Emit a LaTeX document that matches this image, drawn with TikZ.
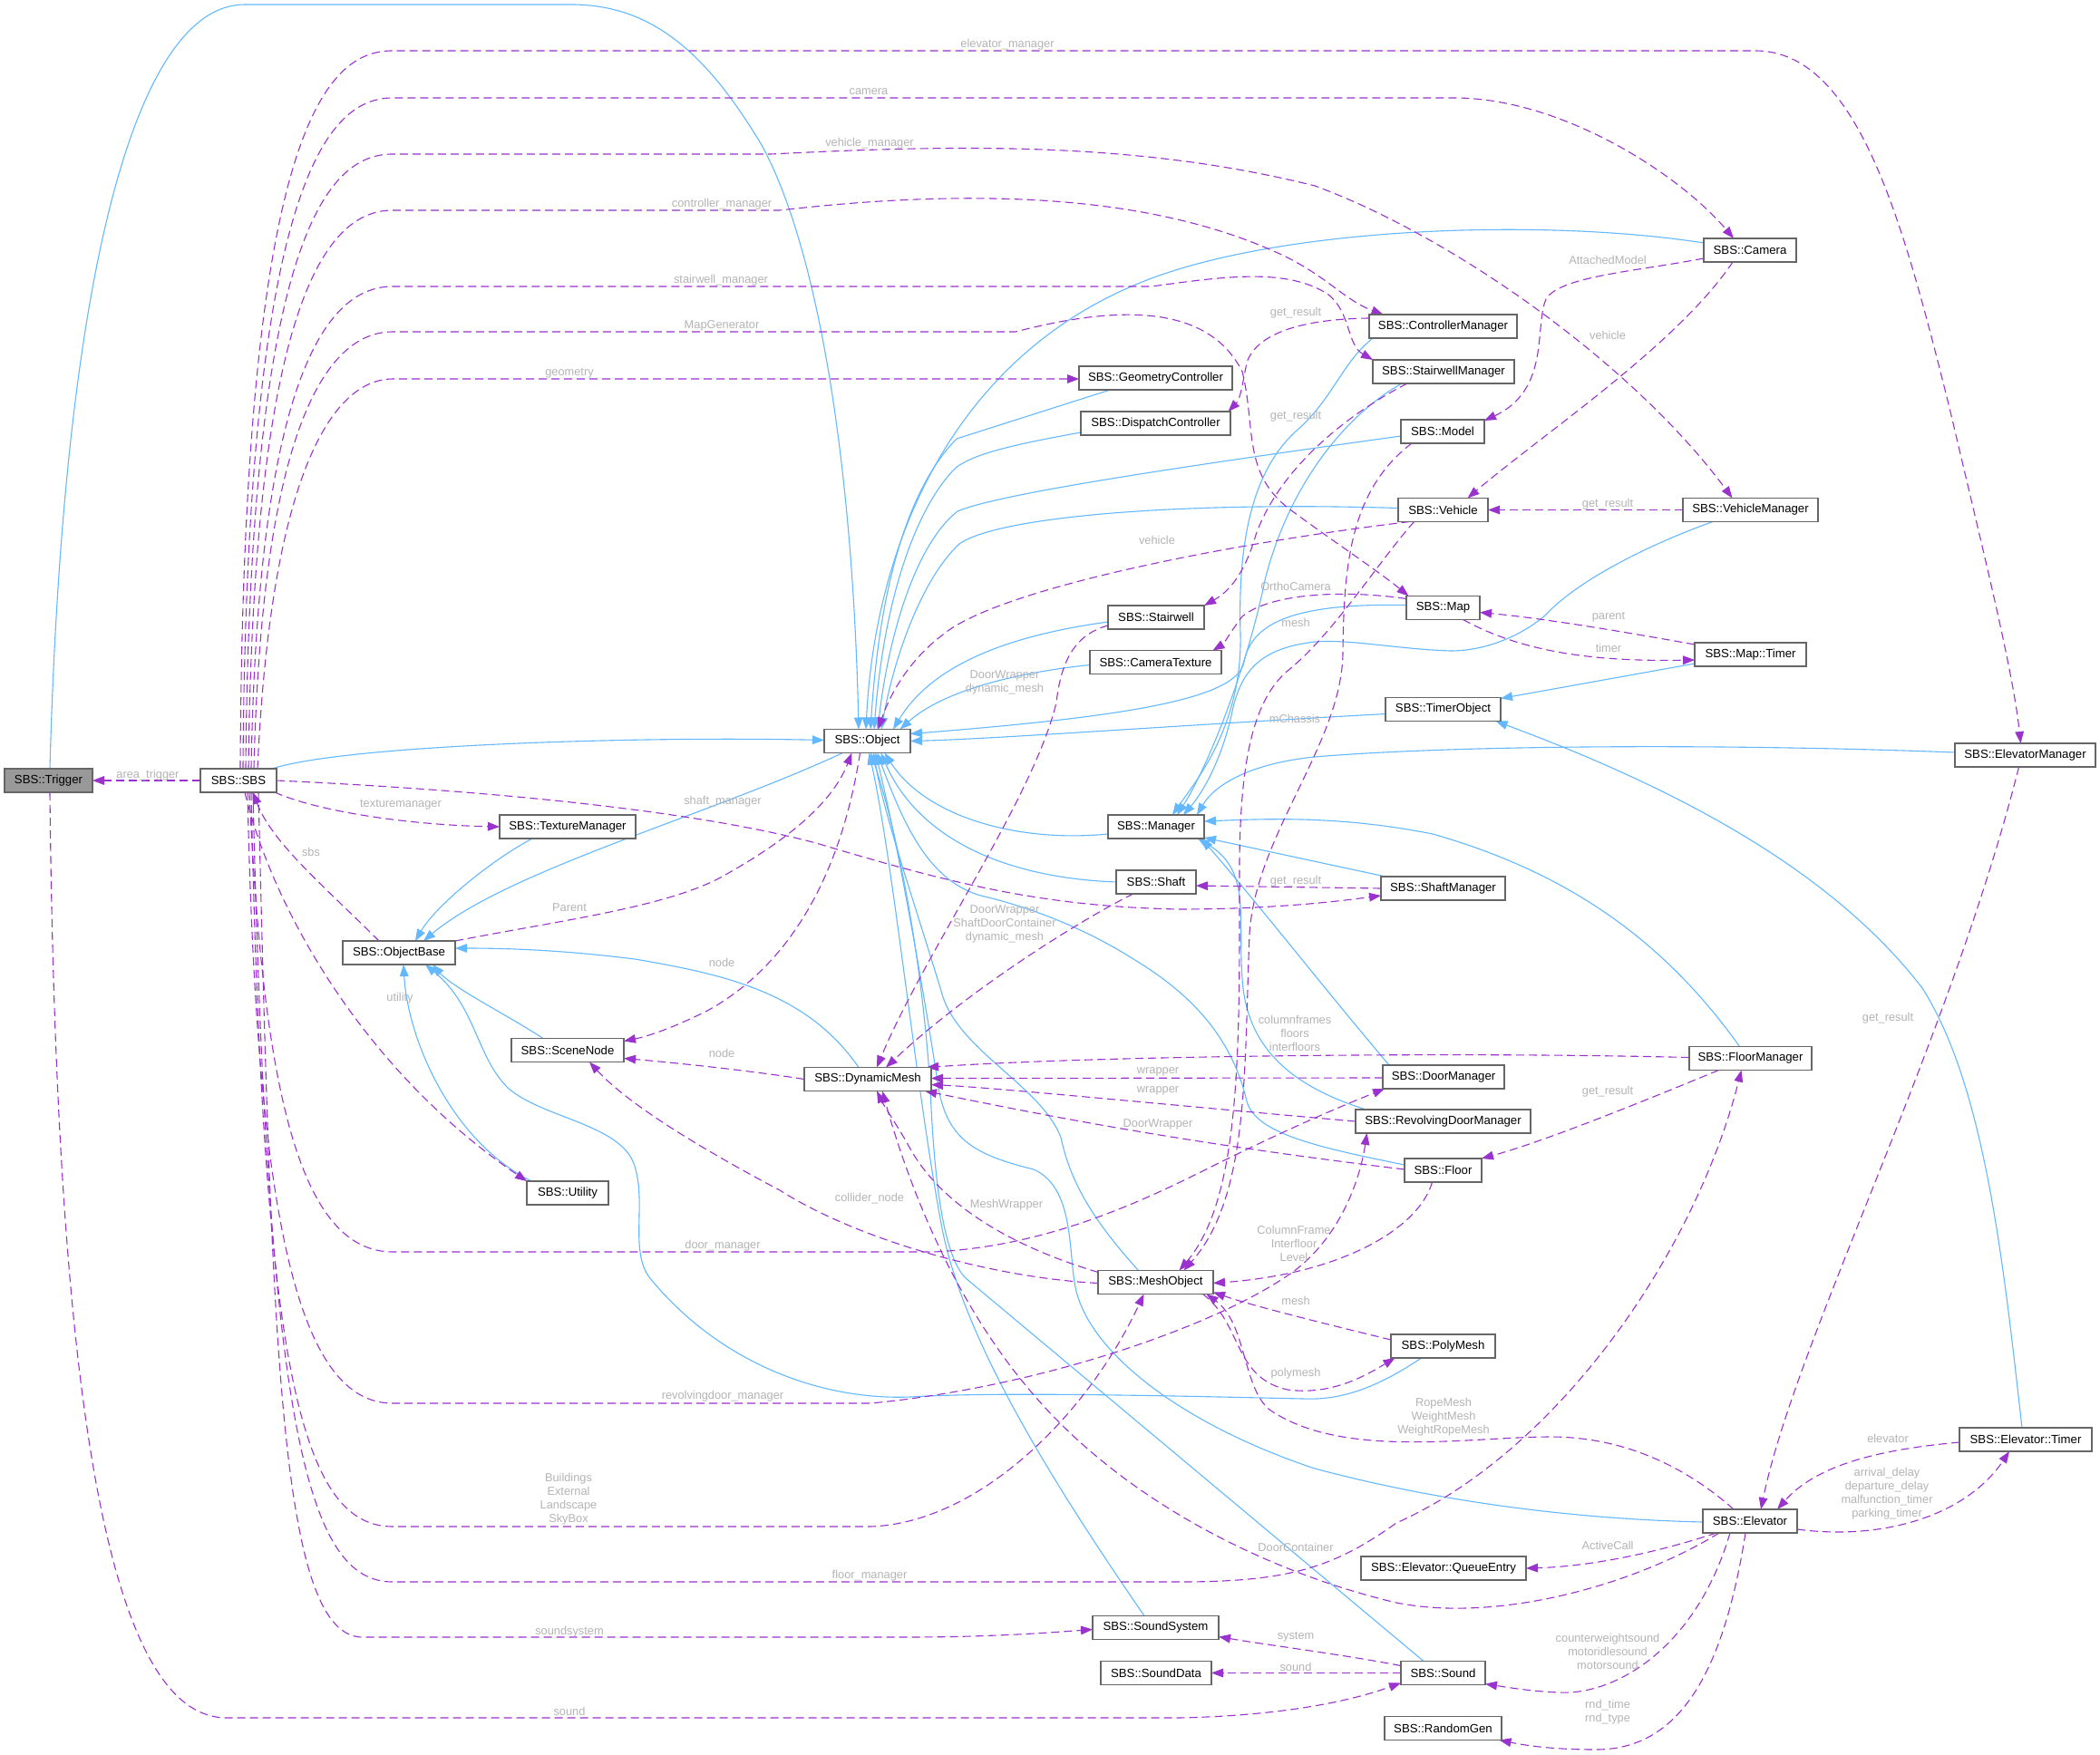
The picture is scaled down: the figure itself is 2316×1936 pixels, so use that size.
\documentclass[tikz,border=0pt]{standalone}
\usepackage{fontspec}
\setmainfont{Liberation Sans}
\usetikzlibrary{arrows.meta,calc}
\definecolor{inhblue}{HTML}{63B8FF}
\definecolor{usepurple}{HTML}{9A32CD}
\definecolor{nodeborder}{HTML}{666666}
\definecolor{lblgray}{HTML}{B4B4B4}
\definecolor{trigfill}{HTML}{999999}
\pgfdeclarelayer{bglayer}
\pgfdeclarelayer{edges}
\pgfsetlayers{bglayer,edges,main}
\tikzset{
 cls/.style={draw=nodeborder, fill=white, line width=0.6pt, minimum height=13pt, inner sep=0pt, font=\fontsize{6.6}{8}\selectfont},
 inhedge/.style={draw=inhblue, line width=0.55pt, -{Triangle[length=6.5pt,width=4.8pt]}},
 useedge/.style={draw=usepurple, line width=0.55pt, dash pattern=on 4.5pt off 2.5pt, -{Triangle[length=6.5pt,width=4.8pt]}},
 lbl/.style={text=lblgray, font=\fontsize{6.4}{7.5}\selectfont, align=center, inner sep=0pt},
}
\begin{document}
\begin{tikzpicture}[x=0.5pt,y=-0.5pt]
\begin{pgfonlayer}{bglayer}
\fill[white] (0,0) rectangle (2316,1936);
\end{pgfonlayer}
\useasboundingbox (0,0) rectangle (2316,1936);
% nodes
\node[cls, fill=trigfill, minimum width=48.5pt] (T) at (53.5,861) {SBS::Trigger};
\node[cls, minimum width=42pt] (S) at (263,861) {SBS::SBS};
\node[cls, minimum width=47.5pt] (O) at (956.5,817.5) {SBS::Object};
\node[cls, minimum width=75pt] (TM) at (626,912) {SBS::TextureManager};
\node[cls, minimum width=62pt] (OB) at (440,1051) {SBS::ObjectBase};
\node[cls, minimum width=62pt] (SN) at (626,1158.5) {SBS::SceneNode};
\node[cls, minimum width=45pt] (U) at (626,1316) {SBS::Utility};
\node[cls, minimum width=70pt] (DM) at (957,1190.5) {SBS::DynamicMesh};
\node[cls, minimum width=84.5pt] (GC) at (1274.5,417) {SBS::GeometryController};
\node[cls, minimum width=82.5pt] (DC) at (1274.5,467) {SBS::DispatchController};
\node[cls, minimum width=81.5pt] (CM) at (1591.5,360) {SBS::ControllerManager};
\node[cls, minimum width=78pt] (StM) at (1592,410) {SBS::StairwellManager};
\node[cls, minimum width=46pt] (Mo) at (1591,476) {SBS::Model};
\node[cls, minimum width=49.5pt] (V) at (1591.5,562.5) {SBS::Vehicle};
\node[cls, minimum width=51pt] (C) at (1930,276) {SBS::Camera};
\node[cls, minimum width=74.5pt] (VM) at (1930.5,562.5) {SBS::VehicleManager};
\node[cls, minimum width=53pt] (St) at (1275,681) {SBS::Stairwell};
\node[cls, minimum width=72.5pt] (CT) at (1274.5,730.5) {SBS::CameraTexture};
\node[cls, minimum width=40.5pt] (Ma) at (1591.5,670.5) {SBS::Map};
\node[cls, minimum width=61.5pt] (MT) at (1930.5,722) {SBS::Map::Timer};
\node[cls, minimum width=63.5pt] (TO) at (1591.5,782.5) {SBS::TimerObject};
\node[cls, minimum width=77.5pt] (EM) at (2233.5,833) {SBS::ElevatorManager};
\node[cls, minimum width=53pt] (Mg) at (1275,912) {SBS::Manager};
\node[cls, minimum width=44pt] (Sh) at (1275,973) {SBS::Shaft};
\node[cls, minimum width=68.5pt] (ShM) at (1591.5,980) {SBS::ShaftManager};
\node[cls, minimum width=67.5pt] (FM) at (1930.5,1167.5) {SBS::FloorManager};
\node[cls, minimum width=67pt] (DoM) at (1592,1188) {SBS::DoorManager};
\node[cls, minimum width=96.5pt] (RDM) at (1591.5,1237) {SBS::RevolvingDoorManager};
\node[cls, minimum width=42.5pt] (F) at (1591.5,1291) {SBS::Floor};
\node[cls, minimum width=63.5pt] (MO) at (1274.5,1414.5) {SBS::MeshObject};
\node[cls, minimum width=57.5pt] (PM) at (1591.5,1485) {SBS::PolyMesh};
\node[cls, minimum width=73pt] (ET) at (2234,1588) {SBS::Elevator::Timer};
\node[cls, minimum width=52pt] (E) at (1930,1678) {SBS::Elevator};
\node[cls, minimum width=91pt] (Q) at (1592,1730) {SBS::Elevator::QueueEntry};
\node[cls, minimum width=69.5pt] (SS) at (1274.5,1795.5) {SBS::SoundSystem};
\node[cls, minimum width=61pt] (SD) at (1275,1845.5) {SBS::SoundData};
\node[cls, minimum width=46.5pt] (So) at (1591.5,1845.5) {SBS::Sound};
\node[cls, minimum width=64.5pt] (RG) at (1591.5,1906.5) {SBS::RandomGen};

\begin{pgfonlayer}{edges}
% ---------- inheritance ----------
\draw[inhedge] ($(T)+(1.5,-13)$) .. controls (70,300) and (150,5) .. (270,5) -- (630,5) .. controls (720,5) and (780,60) .. (840,160) .. controls (900,270) and (940,500) .. ($(O)+(-9.5,-13)$);
\draw[inhedge] ($(S)+(37,-13)$) .. controls (380,822) and (700,812) .. ($(O)+(-47.5,-1)$);
\draw[inhedge] ($(TM)+(-39,13)$) .. controls (540,950) and (480,1000) .. ($(OB)+(18,-13)$);
\draw[inhedge] ($(O)+(-27,13)$) .. controls (780,900) and (560,960) .. ($(OB)+(27,-13)$);
\draw[inhedge] ($(SN)+(-27,-13)$) .. controls (560,1120) and (500,1090) .. ($(OB)+(37,13)$);
\draw[inhedge] ($(U)+(-40,-13)$) .. controls (500,1260) and (450,1150) .. ($(OB)+(5,13)$);
\draw[inhedge] ($(DM)+(-10,-13)$) .. controls (890,1095) and (800,1075) .. (700,1058) .. controls (620,1048) and (560,1046) .. ($(OB)+(62,-5)$);
\draw[inhedge] ($(PM)+(-24,13)$) .. controls (1520,1530) and (1480,1545) .. (1437,1543) .. controls (1300,1540) and (1100,1535) .. (1004,1541) .. controls (900,1545) and (790,1500) .. (716,1409) .. controls (695,1380) and (712,1330) .. (701,1290) .. controls (690,1240) and (600,1235) .. (560,1200) .. controls (525,1165) and (525,1110) .. ($(OB)+(29,13)$);
\draw[inhedge] ($(C)+(-51,-8)$) .. controls (1700,240) and (1400,250) .. (1250,315) .. controls (1050,400) and (965,600) .. ($(O)+(-1.5,-13)$);
\draw[inhedge] ($(GC)+(-50,13)$) -- (1055,484) .. controls (1000,540) and (970,650) .. ($(O)+(3.5,-13)$);
\draw[inhedge] ($(DC)+(-82.5,10)$) .. controls (1120,490) and (1075,500) .. (1054,516) .. controls (1010,560) and (975,660) .. ($(O)+(7.5,-13)$);
\draw[inhedge] ($(Mo)+(-46,5)$) .. controls (1300,515) and (1100,545) .. (1056,564) .. controls (1010,600) and (980,700) .. ($(O)+(11.5,-13)$);
\draw[inhedge] ($(V)+(-49.5,-2)$) .. controls (1300,553) and (1100,570) .. (1058,600) .. controls (1015,640) and (985,730) .. ($(O)+(15.5,-13)$);
\draw[inhedge] ($(St)+(-53,5)$) .. controls (1120,700) and (1030,730) .. ($(O)+(28.5,-13)$);
\draw[inhedge] ($(CT)+(-72.5,3)$) .. controls (1120,742) and (1040,762) .. ($(O)+(36,-13)$);
\draw[inhedge] ($(Ma)+(-40.5,-3)$) .. controls (1420,665) and (1380,690) .. (1372,730) .. controls (1365,770) and (1250,790) .. ($(O)+(47.5,-8)$);
\draw[inhedge] ($(TO)+(-63.5,5)$) .. controls (1300,800) and (1100,815) .. ($(O)+(47.5,0)$);
\draw[inhedge] ($(Mg)+(-53,8)$) .. controls (1120,930) and (1020,900) .. ($(O)+(19,13)$);
\draw[inhedge] ($(Sh)+(-44,0)$) .. controls (1100,968) and (1010,920) .. ($(O)+(15,13)$);
\draw[inhedge] ($(F)+(-42.5,-6)$) .. controls (1450,1265) and (1385,1250) .. (1375,1215) .. controls (1360,1150) and (1320,1100) .. (1250,1058) .. controls (1190,1020) and (1130,1000) .. (1090,990) .. controls (1030,978) and (1000,920) .. ($(O)+(11,13)$);
\draw[inhedge] ($(MO)+(-19,-13)$) .. controls (1200,1340) and (1180,1300) .. (1170,1255) .. controls (1150,1200) and (1060,1160) .. (1040,1100) .. controls (1010,1000) and (975,900) .. ($(O)+(7,13)$);
\draw[inhedge] ($(E)+(-52,1)$) .. controls (1750,1676) and (1600,1660) .. (1450,1620) .. controls (1300,1570) and (1200,1490) .. (1186,1420) .. controls (1178,1380) and (1185,1310) .. (1140,1290) .. controls (1080,1275) and (1045,1260) .. (1035,1200) .. controls (1020,1100) and (990,930) .. ($(O)+(9,13)$);
\draw[inhedge] ($(SS)+(-12.5,-13)$) .. controls (1150,1620) and (1060,1470) .. (1038,1350) .. controls (1010,1200) and (985,950) .. ($(O)+(2,13)$);
\draw[inhedge] ($(So)+(-21.5,-13)$) -- (1065,1410) .. controls (1040,1385) and (1030,1300) .. (1026,1200) .. controls (1016,1050) and (990,920) .. ($(O)+(4,13)$);
\draw[inhedge] ($(CM)+(-77.5,13)$) .. controls (1480,400) and (1470,440) .. (1430,475) .. controls (1380,520) and (1365,600) .. (1368,700) .. controls (1370,800) and (1320,860) .. ($(Mg)+(18,-13)$);
\draw[inhedge] ($(StM)+(-46,13)$) .. controls (1480,460) and (1420,540) .. (1395,640) .. controls (1375,740) and (1330,850) .. ($(Mg)+(23,-13)$);
\draw[inhedge] ($(VM)+(-41.5,13)$) .. controls (1820,600) and (1740,640) .. (1705,678) .. controls (1680,700) and (1640,718) .. (1600,718) .. controls (1540,716) and (1490,705) .. (1450,708) .. controls (1390,715) and (1370,740) .. (1360,780) .. controls (1350,830) and (1330,870) .. ($(Mg)+(30,-13)$);
\draw[inhedge] ($(EM)+(-77.5,-3)$) .. controls (1900,820) and (1600,822) .. (1450,835) .. controls (1380,842) and (1340,865) .. ($(Mg)+(45,-13)$);
\draw[inhedge] ($(FM)+(-12,-13)$) .. controls (1830,1030) and (1720,960) .. (1580,920) .. controls (1480,900) and (1400,903) .. ($(Mg)+(53,-6)$);
\draw[inhedge] ($(ShM)+(-63.5,-13)$) -- ($(Mg)+(53,12)$);
\draw[inhedge] ($(DoM)+(-60,-13)$) .. controls (1460,1090) and (1390,1000) .. ($(Mg)+(50,13)$);
\draw[inhedge] ($(RDM)+(-85,-13)$) .. controls (1430,1200) and (1375,1160) .. (1370,1080) .. controls (1365,1010) and (1380,960) .. ($(Mg)+(46,13)$);
\draw[inhedge] ($(MT)+(-61.5,10)$) -- ($(TO)+(63.5,-12)$);
\draw[inhedge] ($(ET)+(-4,-13)$) .. controls (2210,1400) and (2190,1200) .. (2120,1090) .. controls (2020,960) and (1850,870) .. ($(TO)+(58,13)$);
% ---------- usage ----------
\draw[useedge] ($(S)+(2,-13)$) .. controls (268,140) and (360,56) .. (433,56) -- (1936,56) .. controls (2050,56) and (2100,250) .. (2150,450) .. controls (2190,620) and (2220,740) .. ($(EM)+(-5,-13)$);
\draw[useedge] ($(S)+(5,-13)$) .. controls (272,190) and (365,108) .. (433,108) -- (1604,108) .. controls (1720,108) and (1850,190) .. ($(C)+(-18,-13)$);
\draw[useedge] ($(S)+(8,-13)$) .. controls (276,250) and (365,170) .. (433,170) -- (850,170) .. controls (1050,160) and (1250,155) .. (1450,205) .. controls (1600,260) and (1800,400) .. ($(VM)+(-20,-13)$);
\draw[useedge] ($(S)+(11,-13)$) .. controls (280,310) and (368,232) .. (433,232) -- (860,232) .. controls (1050,210) and (1250,210) .. (1400,275) .. controls (1460,300) and (1480,330) .. ($(CM)+(-66,-13)$);
\draw[useedge] ($(S)+(14,-13)$) .. controls (285,390) and (370,316) .. (433,316) -- (1270,316) .. controls (1350,305) and (1420,295) .. (1465,325) .. controls (1490,345) and (1485,380) .. ($(StM)+(-78,-13)$);
\draw[useedge] ($(S)+(17,-13)$) .. controls (290,440) and (372,366) .. (433,366) -- (1120,366) .. controls (1220,340) and (1330,330) .. (1370,410) .. controls (1385,470) and (1370,520) .. (1420,560) .. controls (1460,590) and (1520,630) .. ($(Ma)+(-38,-13)$);
\draw[useedge] ($(S)+(21,-13)$) .. controls (300,500) and (375,418) .. (433,418) -- ($(GC)+(-84.5,1)$);
\draw[useedge] ($(S)+(40,13)$) .. controls (350,895) and (450,910) .. ($(TM)+(-75,0)$);
\draw[useedge] ($(S)+(-42,0)$) -- ($(T)+(48.5,0)$);
\draw[useedge] ($(S)+(42,0)$) .. controls (500,870) and (750,890) .. (900,930) .. controls (1050,975) and (1150,1000) .. (1300,1003) .. controls (1400,1003) and (1470,995) .. ($(ShM)+(-68.5,8)$);
\draw[useedge] ($(S)+(7,13)$) .. controls (300,1000) and (400,1180) .. ($(U)+(-45,-13)$);
\draw[useedge] ($(OB)+(-22,-13)$) .. controls (360,980) and (300,930) .. ($(S)+(16,13)$);
\draw[useedge] ($(S)+(12,13)$) .. controls (290,1200) and (330,1381) .. (433,1381) -- (1030,1381) .. controls (1150,1375) and (1250,1330) .. (1330,1290) .. controls (1420,1245) and (1480,1220) .. ($(DoM)+(-65,13)$);
\draw[useedge] ($(S)+(10,13)$) .. controls (283,1350) and (330,1548) .. (433,1548) -- (960,1548) .. controls (1150,1530) and (1350,1460) .. (1430,1400) .. controls (1480,1360) and (1500,1300) .. ($(RDM)+(-84,13)$);
\draw[useedge] ($(S)+(14,13)$) .. controls (290,1500) and (330,1684) .. (433,1684) -- (960,1684) .. controls (1080,1680) and (1200,1560) .. ($(MO)+(-13,13)$);
\draw[useedge] ($(S)+(16,13)$) .. controls (295,1580) and (340,1745) .. (433,1745) -- (1300,1745) .. controls (1420,1745) and (1470,1730) .. (1540,1680) .. controls (1720,1600) and (1870,1380) .. ($(FM)+(-10,13)$);
\draw[useedge] ($(S)+(22,13)$) .. controls (300,1500) and (310,1806) .. (400,1806) -- (1000,1806) .. controls (1100,1806) and (1170,1800) .. ($(SS)+(-69.5,2)$);
\draw[useedge] ($(T)+(1.5,13)$) .. controls (62,1550) and (120,1895) .. (250,1895) -- (1300,1895) .. controls (1400,1893) and (1480,1880) .. ($(So)+(-46.5,11)$);
\draw[useedge] ($(OB)+(62,-13)$) .. controls (620,1015) and (740,1000) .. (800,965) .. controls (880,920) and (920,880) .. ($(O)+(-17,13)$);
\draw[useedge] ($(O)+(-8,13)$) .. controls (930,950) and (880,1060) .. (780,1115) .. controls (750,1130) and (720,1142) .. ($(SN)+(62,-10)$);
\draw[useedge] ($(DM)+(-70,0)$) .. controls (820,1180) and (740,1172) .. ($(SN)+(62,9)$);
\draw[useedge] ($(MO)+(-63.5,1)$) .. controls (1100,1410) and (950,1370) .. (860,1313) .. controls (760,1260) and (690,1215) .. ($(SN)+(24,13)$);
\draw[useedge] ($(MO)+(-63.5,-11)$) .. controls (1100,1370) and (1030,1320) .. (1000,1260) .. controls (985,1235) and (975,1220) .. ($(DM)+(10,13)$);
\draw[useedge] ($(E)+(-34,13)$) .. controls (1800,1750) and (1650,1790) .. (1540,1768) .. controls (1400,1735) and (1250,1660) .. (1150,1550) .. controls (1050,1440) and (1000,1300) .. ($(DM)+(16,13)$);
\draw[useedge] ($(E)+(-18,-13)$) .. controls (1850,1610) and (1780,1585) .. (1710,1585) .. controls (1620,1585) and (1480,1610) .. (1400,1555) .. controls (1370,1530) and (1375,1460) .. ($(MO)+(56,13)$);
\draw[useedge] ($(PM)+(-57.5,-7)$) .. controls (1460,1460) and (1380,1440) .. ($(MO)+(63.5,11)$);
\draw[useedge] ($(MO)+(52,13)$) .. controls (1370,1460) and (1360,1520) .. (1420,1533) .. controls (1470,1540) and (1510,1515) .. ($(PM)+(-53,13)$);
\draw[useedge] ($(F)+(-12,13)$) .. controls (1565,1355) and (1480,1405) .. ($(MO)+(63.5,1)$);
\draw[useedge] ($(E)+(-37,13)$) .. controls (1820,1715) and (1750,1728) .. ($(Q)+(91,0)$);
\draw[useedge] ($(E)+(-22,13)$) .. controls (1870,1820) and (1780,1870) .. (1720,1867) .. controls (1690,1866) and (1660,1861) .. ($(So)+(46.5,12)$);
\draw[useedge] ($(E)+(-5,13)$) .. controls (1900,1850) and (1850,1930) .. (1760,1930) .. controls (1710,1930) and (1680,1925) .. ($(RG)+(62,13)$);
\draw[useedge] ($(ET)+(-73,3)$) .. controls (2060,1600) and (2000,1620) .. ($(E)+(30,-13)$);
\draw[useedge] ($(E)+(52,9)$) .. controls (2080,1700) and (2170,1670) .. ($(ET)+(-18,13)$);
\draw[useedge] ($(EM)+(-7,13)$) .. controls (2150,1150) and (1980,1480) .. ($(E)+(12,-13)$);
\draw[useedge] ($(FM)+(-35,13)$) .. controls (1800,1220) and (1700,1260) .. ($(F)+(42.5,-13)$);
\draw[useedge] ($(FM)+(-67.5,-1)$) .. controls (1600,1160) and (1200,1165) .. ($(DM)+(65,-13)$);
\draw[useedge] ($(DoM)+(-67,1)$) -- ($(DM)+(70,-1)$);
\draw[useedge] ($(RDM)+(-96.5,0)$) .. controls (1300,1220) and (1100,1200) .. ($(DM)+(70,6)$);
\draw[useedge] ($(F)+(-42.5,-1)$) .. controls (1300,1260) and (1150,1230) .. ($(DM)+(63,13)$);
\draw[useedge] ($(Sh)+(-25,13)$) .. controls (1200,1010) and (1070,1090) .. ($(DM)+(20,-13)$);
\draw[useedge] ($(St)+(-53,9)$) .. controls (1185,700) and (1170,730) .. (1165,775) .. controls (1140,880) and (1020,1050) .. ($(DM)+(10,-13)$);
\draw[useedge] ($(ShM)+(-68.5,0)$) -- ($(Sh)+(44,4)$);
\draw[useedge] ($(VM)+(-74.5,0)$) -- ($(V)+(49.5,0)$);
\draw[useedge] ($(C)+(-51,9)$) .. controls (1800,300) and (1720,305) .. (1705,330) .. controls (1692,360) and (1710,430) .. ($(Mo)+(46,-12)$);
\draw[useedge] ($(C)+(-19,13)$) .. controls (1850,380) and (1700,480) .. ($(V)+(27,-13)$);
\draw[useedge] ($(V)+(-37,13)$) .. controls (1350,600) and (1100,650) .. (1040,700) .. controls (1000,730) and (980,770) .. ($(O)+(12,-13)$);
\draw[useedge] ($(CM)+(-81.5,-9)$) .. controls (1430,352) and (1385,370) .. (1375,400) .. controls (1370,425) and (1368,440) .. ($(DC)+(80,-13)$);
\draw[useedge] ($(StM)+(-40,13)$) .. controls (1480,460) and (1410,520) .. (1385,590) .. controls (1375,625) and (1360,650) .. ($(St)+(53,-13)$);
\draw[useedge] ($(Ma)+(-40.5,-10)$) .. controls (1480,650) and (1400,655) .. (1370,680) .. controls (1355,700) and (1350,710) .. ($(CT)+(63,-13)$);
\draw[useedge] ($(Ma)+(22,13)$) .. controls (1680,720) and (1760,730) .. ($(MT)+(-61.5,6)$);
\draw[useedge] ($(MT)+(-61.5,-11)$) .. controls (1780,695) and (1700,682) .. ($(Ma)+(40.5,5)$);
\draw[useedge] ($(Mo)+(-34,13)$) .. controls (1490,540) and (1482,620) .. (1481,720) .. controls (1480,820) and (1385,920) .. (1378,1030) .. controls (1372,1180) and (1378,1320) .. ($(MO)+(31,-13)$);
\draw[useedge] ($(V)+(-32,13)$) .. controls (1520,620) and (1470,700) .. (1420,740) .. controls (1385,770) and (1368,830) .. (1367,950) .. controls (1367,1150) and (1370,1320) .. ($(MO)+(26,-13)$);
\draw[useedge] ($(So)+(-46.5,-8)$) .. controls (1480,1825) and (1400,1815) .. ($(SS)+(69.5,10)$);
\draw[useedge] ($(So)+(-46.5,0)$) -- ($(SD)+(61,0)$);
\end{pgfonlayer}

% ---------- labels ----------
\node[lbl] at (1111,49) {elevator\_manager};
\node[lbl] at (958,101) {camera};
\node[lbl] at (959,158) {vehicle\_manager};
\node[lbl] at (796,225) {controller\_manager};
\node[lbl] at (795,309) {stairwell\_manager};
\node[lbl] at (796,359) {MapGenerator};
\node[lbl] at (628,412) {geometry};
\node[lbl] at (163,855) {area\_trigger};
\node[lbl] at (442,888) {texturemanager};
\node[lbl] at (797,884) {shaft\_manager};
\node[lbl] at (343,940) {sbs};
\node[lbl] at (628,1001) {Parent};
\node[lbl] at (441,1101) {utility};
\node[lbl] at (796,1062) {node};
\node[lbl] at (796,1162) {node};
\node[lbl] at (1108,753) {DoorWrapper\\dynamic\_mesh};
\node[lbl] at (1108,1019) {DoorWrapper\\ShaftDoorContainer\\dynamic\_mesh};
\node[lbl] at (1428,1140) {columnframes\\floors\\interfloors};
\node[lbl] at (1277,1182) {wrapper};
\node[lbl] at (1277,1203) {wrapper};
\node[lbl] at (1277,1240) {DoorWrapper};
\node[lbl] at (959,1322) {collider\_node};
\node[lbl] at (1110,1329) {MeshWrapper};
\node[lbl] at (1427,1372) {ColumnFrame\\Interfloor\\Level};
\node[lbl] at (1429,1435) {mesh};
\node[lbl] at (1429,1515) {polymesh};
\node[lbl] at (1592,1563) {RopeMesh\\WeightMesh\\WeightRopeMesh};
\node[lbl] at (797,1374) {door\_manager};
\node[lbl] at (797,1540) {revolvingdoor\_manager};
\node[lbl] at (627,1654) {Buildings\\External\\Landscape\\SkyBox};
\node[lbl] at (959,1738) {floor\_manager};
\node[lbl] at (1429,1707) {DoorContainer};
\node[lbl] at (628,1800) {soundsystem};
\node[lbl] at (628,1888) {sound};
\node[lbl] at (1429,1806) {system};
\node[lbl] at (1429,1839) {sound};
\node[lbl] at (1773,1705) {ActiveCall};
\node[lbl] at (1773,1822) {counterweightsound\\motoridlesound\\motorsound};
\node[lbl] at (1773,1889) {rnd\_time\\rnd\_type};
\node[lbl] at (2082,1587) {elevator};
\node[lbl] at (2081,1648) {arrival\_delay\\departure\_delay\\malfunction\_timer\\parking\_timer};
\node[lbl] at (2082,1123) {get\_result};
\node[lbl] at (1773,1204) {get\_result};
\node[lbl] at (1429,972) {get\_result};
\node[lbl] at (1773,556) {get\_result};
\node[lbl] at (1429,345) {get\_result};
\node[lbl] at (1429,459) {get\_result};
\node[lbl] at (1773,287) {AttachedModel};
\node[lbl] at (1773,370) {vehicle};
\node[lbl] at (1276,596) {vehicle};
\node[lbl] at (1429,647) {OrthoCamera};
\node[lbl] at (1429,687) {mesh};
\node[lbl] at (1428,793) {mChassis};
\node[lbl] at (1774,681) {parent};
\node[lbl] at (1774,715) {timer};
\end{tikzpicture}
\end{document}
